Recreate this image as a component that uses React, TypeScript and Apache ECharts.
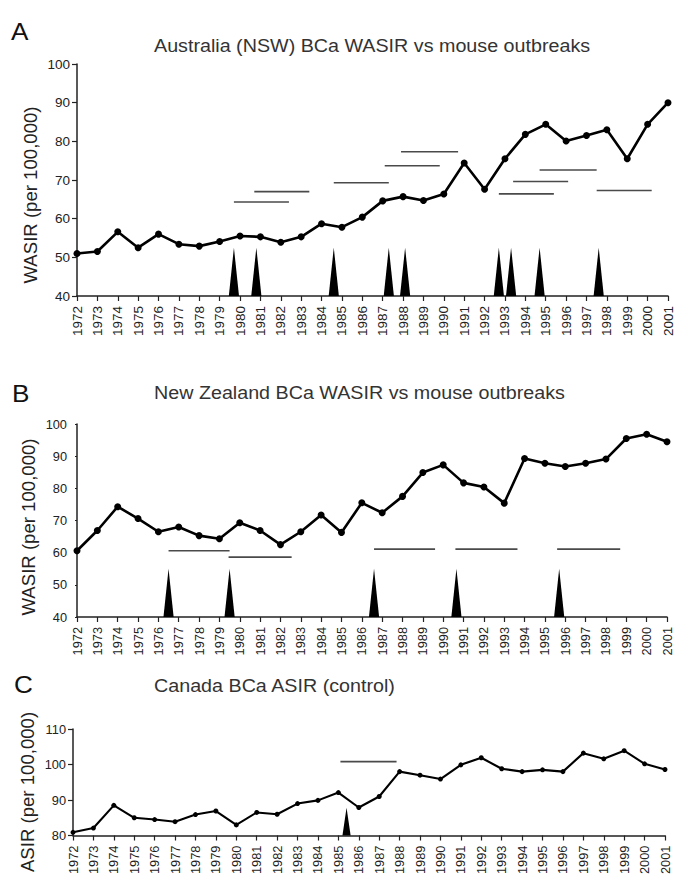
import React, { useEffect, useRef } from "react";
import * as echarts from "echarts";

const years = [1972, 1973, 1974, 1975, 1976, 1977, 1978, 1979, 1980, 1981, 1982, 1983, 1984, 1985, 1986, 1987, 1988, 1989, 1990, 1991, 1992, 1993, 1994, 1995, 1996, 1997, 1998, 1999, 2000, 2001];

// Panel A: Australia (NSW)
const ausWasir = [51.0, 51.5, 56.6, 52.5, 56.0, 53.4, 52.9, 54.1, 55.5, 55.3, 53.9, 55.3, 58.7, 57.8, 60.4, 64.6, 65.7, 64.7, 66.4, 74.4, 67.6, 75.5, 81.8, 84.4, 80.1, 81.5, 83.0, 75.5, 84.4, 90.0];
const ausOutbreaks = [1979.7, 1980.8, 1984.6, 1987.3, 1988.1, 1992.7, 1993.3, 1994.7, 1997.6];
const ausOutbreakPeak = 52.5;
const ausSpans = [
  [1979.7, 1982.4, 64.3],
  [1980.7, 1983.4, 67.0],
  [1984.6, 1987.3, 69.3],
  [1987.1, 1989.8, 73.7],
  [1987.9, 1990.7, 77.3],
  [1992.7, 1995.4, 66.4],
  [1993.4, 1996.1, 69.6],
  [1994.7, 1997.5, 72.6],
  [1997.5, 2000.2, 67.3],
];

// Panel B: New Zealand
const nzWasir = [60.6, 66.9, 74.3, 70.6, 66.5, 68.0, 65.3, 64.3, 69.3, 66.9, 62.5, 66.5, 71.7, 66.3, 75.5, 72.4, 77.5, 84.9, 87.3, 81.7, 80.4, 75.4, 89.3, 87.8, 86.8, 87.8, 89.1, 95.5, 96.8, 94.5];
const nzOutbreaks = [1976.5, 1979.5, 1986.6, 1990.65, 1995.7];
const nzOutbreakPeak = 55;
const nzSpans = [
  [1976.5, 1979.5, 60.6],
  [1979.45, 1982.55, 58.6],
  [1986.6, 1989.6, 61.1],
  [1990.6, 1993.65, 61.1],
  [1995.6, 1998.7, 61.1],
];

// Panel C: Canada
const caAsir = [80.9, 82.1, 88.5, 85.0, 84.5, 83.9, 85.9, 86.9, 83.0, 86.5, 86.0, 89.0, 89.9, 92.1, 87.9, 91.0, 98.0, 97.0, 95.9, 99.9, 101.9, 98.8, 98.0, 98.5, 98.0, 103.2, 101.6, 103.9, 100.2, 98.6];
const caOutbreaks = [1985.4];
const caOutbreakPeak = 87.8;
const caSpans = [[1985.1, 1987.85, 100.8]];

const titles = [
  "Australia (NSW) BCa WASIR vs mouse outbreaks",
  "New Zealand BCa WASIR vs mouse outbreaks",
  "Canada BCa ASIR (control)",
];
const panelLetters = ["A", "B", "C"];
const yNames = ["WASIR (per 100,000)", "WASIR (per 100,000)", "ASIR (per 100,000)"];

const FONT = "'Liberation Sans', Arial, sans-serif";

export default function App() {
  const ref = useRef<HTMLDivElement>(null);

  useEffect(() => {
    if (!ref.current) return;
    const chart = echarts.init(ref.current, null, { renderer: "svg" });

    const grids = [
      { left: 77, top: 64, width: 594, height: 232 },
      { left: 77, top: 424, width: 590, height: 193 },
      { left: 73, top: 729, width: 592, height: 111 },
    ];
    const yRanges = [
      [40, 100],
      [40, 100],
      [80, 110],
    ];
    const labelSizes = [13.5, 12.8, 12.8];
    const lineWidths = [2.6, 2.6, 2.1];
    const symbolSizes = [7, 7, 5];
    const values = [ausWasir, nzWasir, caAsir];
    const outbreaks = [ausOutbreaks, nzOutbreaks, caOutbreaks];
    const peaks = [ausOutbreakPeak, nzOutbreakPeak, caOutbreakPeak];
    const halfWidths = [0.25, 0.25, 0.2];
    const spans = [ausSpans, nzSpans, caSpans];

    const xAxis = grids.map((_, i) => ({
      type: "value",
      gridIndex: i,
      min: 1972,
      max: 2001,
      interval: 1,
      splitLine: { show: false },
      axisLine: { lineStyle: { color: "#222", width: 1.5 } },
      axisTick: { length: 5, lineStyle: { color: "#222", width: 1.2 } },
      axisLabel: {
        rotate: 90,
        margin: 10,
        fontSize: labelSizes[i],
        fontFamily: FONT,
        color: "#222",
        formatter: (v: number) => String(v),
      },
    }));

    const yAxis = grids.map((_, i) => ({
      type: "value",
      gridIndex: i,
      min: yRanges[i][0],
      max: yRanges[i][1],
      interval: 10,
      splitLine: { show: false },
      axisLine: { show: true, lineStyle: { color: "#222", width: 1.5 } },
      axisTick: { show: true, length: i === 1 ? 2 : 5, lineStyle: { color: "#222", width: 1.2 } },
      axisLabel: {
        margin: i === 1 ? 10 : 7,
        fontSize: labelSizes[i],
        fontFamily: FONT,
        color: "#222",
      },
    }));

    const series: any[] = [];
    grids.forEach((_, i) => {
      const base = yRanges[i][0];
      const hw = halfWidths[i];
      series.push({
        type: "custom",
        xAxisIndex: i,
        yAxisIndex: i,
        data: outbreaks[i].map((x) => [x, peaks[i]]),
        encode: { x: 0, y: 1 },
        renderItem: (params: any, api: any) => {
          const x = api.value(0);
          const top = api.value(1);
          const p1 = api.coord([x - hw, base]);
          const p2 = api.coord([x, top]);
          const p3 = api.coord([x + hw, base]);
          return {
            type: "polygon",
            shape: { points: [p1, p2, p3] },
            style: { fill: "#000" },
          };
        },
        z: 2,
      });
      series.push({
        type: "custom",
        xAxisIndex: i,
        yAxisIndex: i,
        data: spans[i],
        encode: { x: [0, 1], y: 2 },
        renderItem: (params: any, api: any) => {
          const a = api.coord([api.value(0), api.value(2)]);
          const b = api.coord([api.value(1), api.value(2)]);
          return {
            type: "line",
            shape: { x1: a[0], y1: a[1], x2: b[0], y2: b[1] },
            style: { stroke: "#4a4a4a", lineWidth: 1.6 },
          };
        },
        z: 2,
      });
      series.push({
        type: "line",
        xAxisIndex: i,
        yAxisIndex: i,
        data: years.map((y, k) => [y, values[i][k]]),
        symbol: "circle",
        symbolSize: symbolSizes[i],
        itemStyle: { color: "#000" },
        lineStyle: { color: "#000", width: lineWidths[i] },
        z: 3,
      });
    });

    const letterPos = [
      [11, 31],
      [12, 393],
      [14, 684],
    ];
    const titleY = [46, 393, 685.5];
    const yNamePos = [
      [30, 195],
      [28, 527],
      [27, 792],
    ];

    const graphic: any[] = [];
    for (let i = 0; i < 3; i++) {
      graphic.push({
        type: "text",
        x: letterPos[i][0],
        y: letterPos[i][1],
        scaleX: 1.09,
        style: {
          text: panelLetters[i],
          fontSize: 24,
          fontFamily: FONT,
          fill: "#111",
          verticalAlign: "middle",
          align: "left",
        },
      });
      graphic.push({
        type: "text",
        x: 154,
        y: titleY[i],
        scaleX: 1.065,
        style: {
          text: titles[i],
          fontSize: 18.5,
          fontFamily: FONT,
          fill: "#333",
          verticalAlign: "middle",
          align: "left",
        },
      });
      graphic.push({
        type: "text",
        x: yNamePos[i][0],
        y: yNamePos[i][1],
        rotation: Math.PI / 2,
        style: {
          text: yNames[i],
          fontSize: 18.6,
          fontFamily: FONT,
          fill: "#222",
          verticalAlign: "middle",
          align: "center",
        },
      });
    }

    chart.setOption({
      animation: false,
      backgroundColor: "#fff",
      grid: grids.map((g) => ({ ...g, containLabel: false })),
      xAxis,
      yAxis,
      series,
      graphic,
    });

    return () => chart.dispose();
  }, []);

  return (
    <div
      ref={ref}
      style={{ position: "fixed", left: 0, top: 0, width: 675, height: 877 }}
    />
  );
}
